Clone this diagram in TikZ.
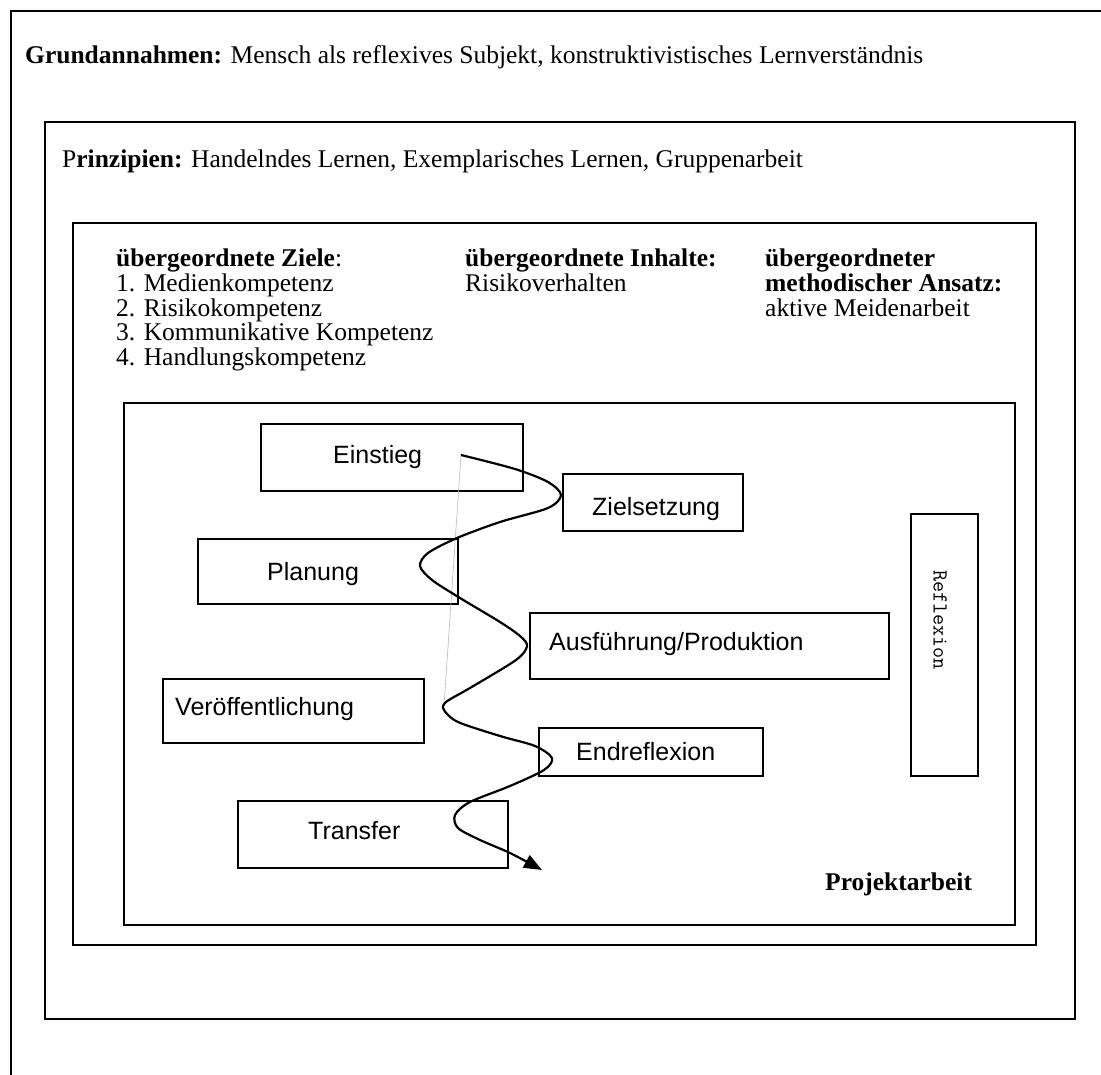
\documentclass[tikz,border=0pt]{standalone}
\usepackage{fontspec}
\setmainfont{Liberation Serif}
\newfontfamily\boxfont{Liberation Sans}
\usetikzlibrary{arrows.meta}

\begin{document}
\begin{tikzpicture}[x=1pt,y=-1pt,
  frame/.style={draw, line width=1.6pt},
  stage/.style={draw, line width=1.6pt, anchor=north west, inner sep=0pt},
  stagetext/.style={anchor=base west, inner sep=0pt, font=\boxfont\fontsize{25}{29}\selectfont},
  serif/.style={anchor=base west, inner sep=0pt, font=\fontsize{25.5}{25}\selectfont},
]
\useasboundingbox (0,0) rectangle (1101,1075);

% nested frames
\draw[frame] (11,1075) -- (11,11) -- (1101,11);
\draw[frame] (45,122) rectangle (1075,1019);
\draw[frame] (73,223) rectangle (1036,945);
\draw[frame] (124,403) rectangle (1015,925);

% frame headings
\node[serif] (grund) at (25,64) {\textbf{Grundannahmen:} Mensch als reflexives Subjekt, konstruktivistisches Lernverständnis};
\node[serif] (prinz) at (62,168) {P\textbf{rinzipien:} Handelndes Lernen, Exemplarisches Lernen, Gruppenarbeit};

% goals column
\node[serif] (ziele)  at (116,267)   {\textbf{übergeordnete Ziele}:};
\node[serif] (ziel1)  at (116,292)   {1. Medienkompetenz};
\node[serif] (ziel2)  at (116,316.5) {2. Risikokompetenz};
\node[serif] (ziel3)  at (116,341)   {3. Kommunikative Kompetenz};
\node[serif] (ziel4)  at (116,365.5) {4. Handlungskompetenz};

% contents column
\node[serif] (inhalte) at (465,267) {\textbf{übergeordnete Inhalte:}};
\node[serif] (inhalt1) at (465,292) {Risikoverhalten};

% method column
\node[serif] (ansatz1) at (765,267) {\textbf{übergeordneter}};
\node[serif] (ansatz2) at (765,292) {\textbf{methodischer Ansatz:}};
\node[serif] (ansatz3) at (765,316.5) {aktive Meidenarbeit};

\node[serif] (projekt) at (825,890) {\textbf{Projektarbeit}};

% project stages
\node[stage, minimum width=262pt, minimum height=67pt] (einstieg) at (260,423) {};
\node[stagetext] (einstiegtxt) at (333,463) {Einstieg};
\node[stage, minimum width=180pt, minimum height=57pt] (ziel) at (562,473) {};
\node[stagetext] (zieltxt) at (592,515) {Zielsetzung};
\node[stage, minimum width=260pt, minimum height=65pt] (planung) at (197,538) {};
\node[stagetext] (planungtxt) at (267,580) {Planung};
\node[stage, minimum width=359pt, minimum height=66pt] (ausf) at (529,612) {};
\node[stagetext] (ausftxt) at (549,650) {Ausführung/Produktion};
\node[stage, minimum width=261pt, minimum height=64pt] (veroeff) at (162,678) {};
\node[stagetext] (veroefftxt) at (175,715) {Veröffentlichung};
\node[stage, minimum width=224pt, minimum height=48pt] (endref) at (538,727) {};
\node[stagetext] (endreftxt) at (576,760) {Endreflexion};
\node[stage, minimum width=270pt, minimum height=67pt] (transfer) at (237,800) {};
\node[stagetext] (transfertxt) at (308,839) {Transfer};

% reflection bar with typewriter label
\node[stage, minimum width=67pt, minimum height=262pt] (reflex) at (910,513) {};
\node[rotate=-90, inner sep=0pt, font=\ttfamily\fontsize{21.5}{21.5}\selectfont] (reflextxt) at (940,620) {Reflexion};

% winding process line
\coordinate (pathstart) at (461,455);
\coordinate (graystop) at (444,706);
\coordinate (pathend) at (542,870);
\draw[gray!55, line width=0.6pt] (pathstart) -- (graystop);
\draw[line width=2.2pt, line join=round, -{Triangle[length=18pt,width=14pt]}]
  plot[smooth, tension=0.5] coordinates {
    (pathstart) (515,469) (548,482) (561,495) (548,508) (500,522) (457,538)
    (428,553) (420,566) (432,580) (460,598) (500,622) (520,636) (527,646)
    (516,660) (470,688) (446,702) (444,710) (458,722) (500,736) (535,746)
    (552,758) (544,770) (510,786) (470,802) (455,815) (458,828) (480,840)
    (510,853) (pathend)};
\end{tikzpicture}
\end{document}
